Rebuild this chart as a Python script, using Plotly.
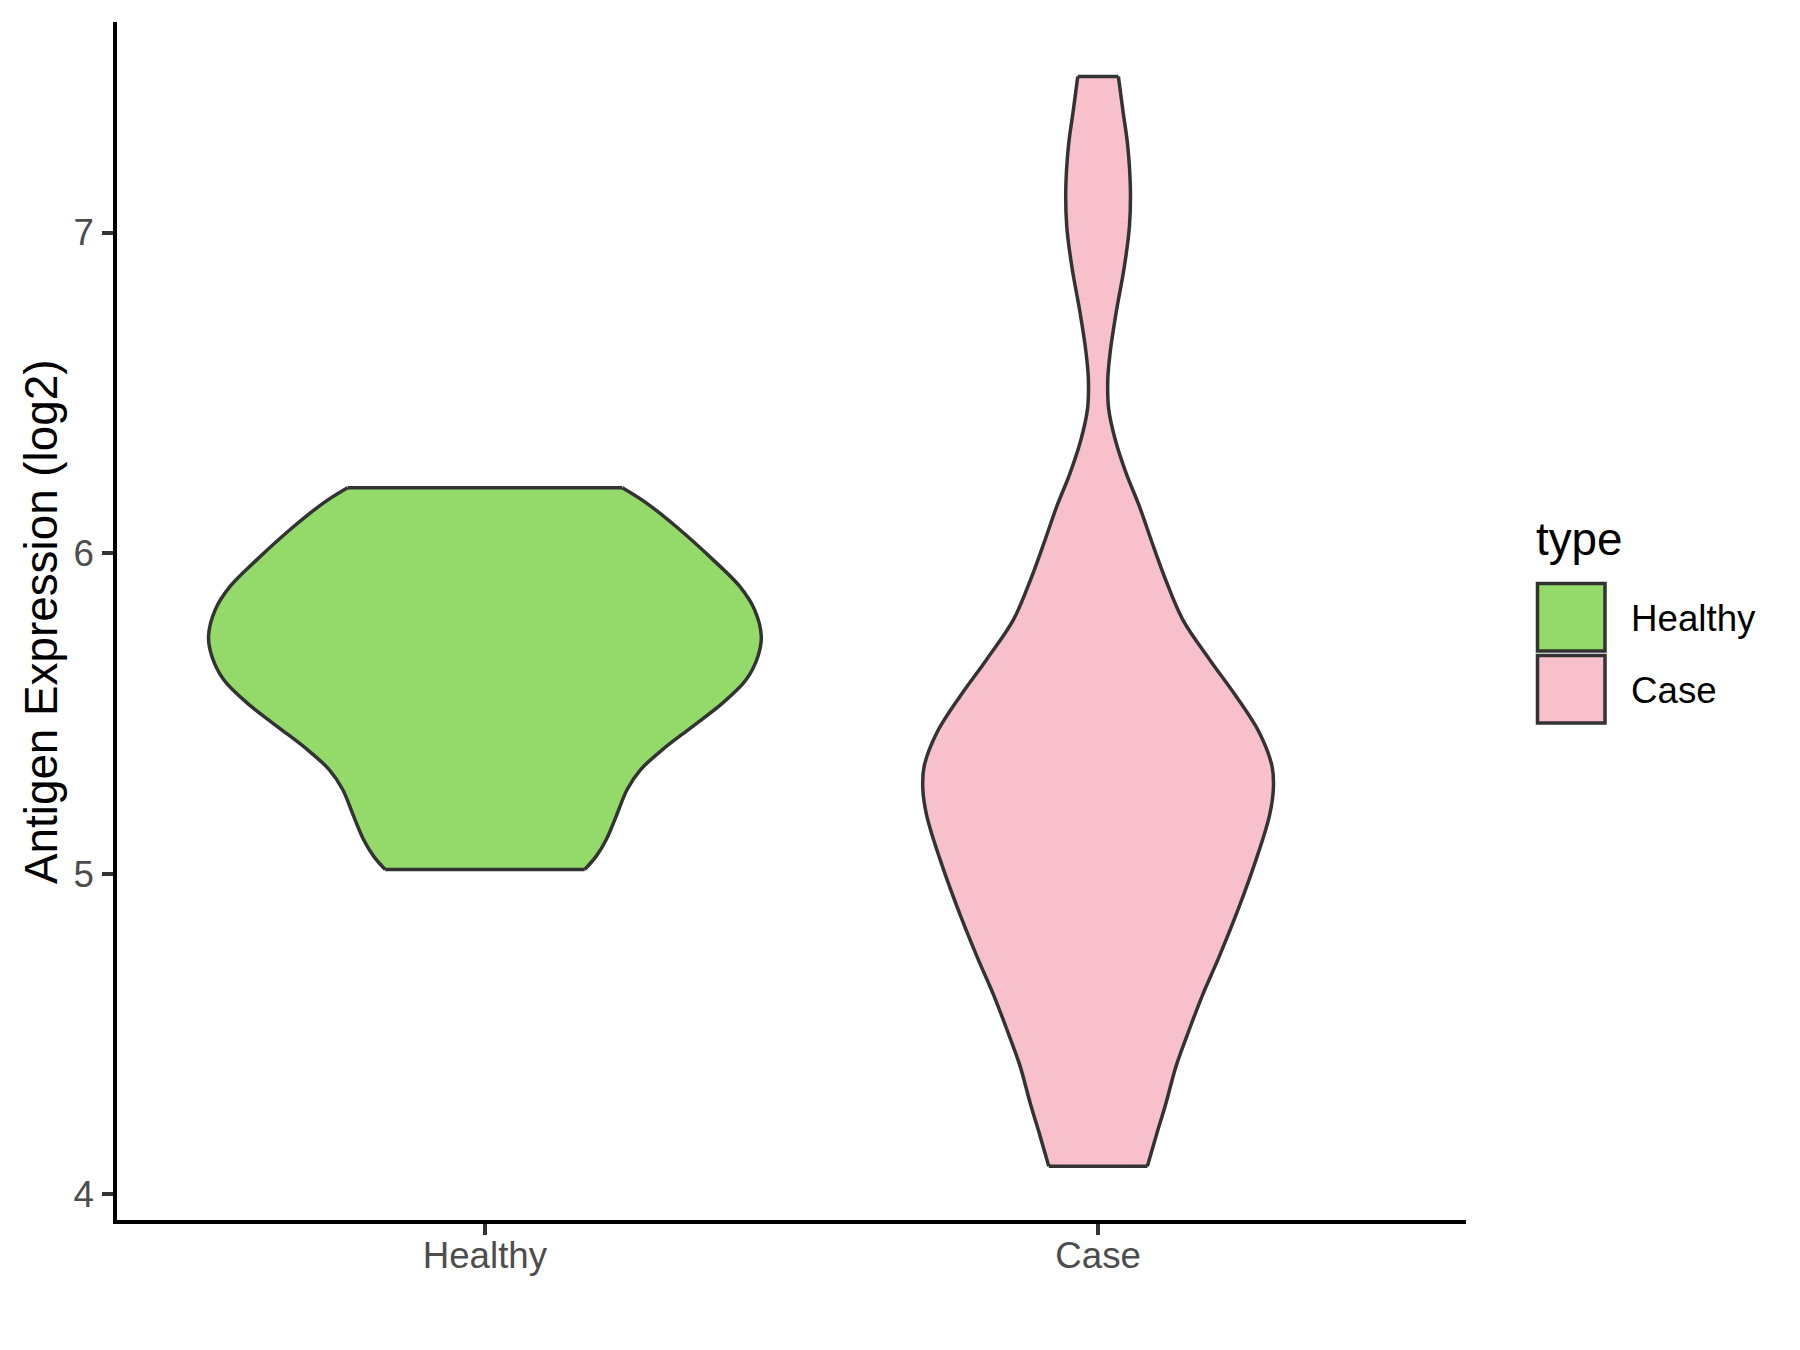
import plotly.graph_objects as go

# ---- data ----
categories = ["Healthy", "Case"]
positions = [1, 2]
fill_colors = ["#93DA6A", "#F8C0CB"]

# density profile: expression level (log2) and violin half-width (x-axis units)
healthy_level = [5.013, 5.055, 5.107, 5.180, 5.263, 5.325, 5.388, 5.460, 5.533,
                 5.606, 5.678, 5.741, 5.824, 5.897, 5.980, 6.074, 6.157, 6.204]
healthy_halfwidth = [0.1626, 0.1816, 0.1980, 0.2142, 0.2320, 0.2540, 0.2900, 0.3390, 0.3880,
                     0.4262, 0.4452, 0.4507, 0.4397, 0.4153, 0.3718, 0.3175, 0.2630, 0.2240]

case_level = [4.088, 4.182, 4.286, 4.400, 4.515, 4.620, 4.743, 4.899, 5.044, 5.180,
              5.263, 5.335, 5.440, 5.554, 5.668, 5.793, 5.918, 6.042, 6.146, 6.250,
              6.354, 6.448, 6.541, 6.625, 6.749, 6.895, 7.019, 7.134, 7.269, 7.383, 7.487]
case_halfwidth = [0.0804, 0.0946, 0.1109, 0.1272, 0.1489, 0.1700, 0.1978, 0.2304, 0.2576, 0.2793,
                  0.2858, 0.2837, 0.2630, 0.2250, 0.1820, 0.1380, 0.1100, 0.0864, 0.0674, 0.0457,
                  0.0280, 0.0174, 0.0158, 0.0196, 0.0293, 0.0429, 0.0511, 0.0527, 0.0484, 0.0403, 0.0331]

y_ticks = [4, 5, 6, 7]
y_title = "Antigen Expression (log2)"
legend_title = "type"

profiles = [(healthy_level, healthy_halfwidth), (case_level, case_halfwidth)]

# ---- figure ----
W, H = 1800, 1350
OFF = 8  # page body margin offset
L, T = 117 - OFF, 22 - OFF
PW, PH = 1349, 1198
R, B = W - L - PW, H - T - PH
FONT = "Liberation Sans, Arial, sans-serif"
OUTLINE = "#333333"
LW = 3.5

fig = go.Figure()
for name, pos, col, (lev, hw) in zip(categories, positions, fill_colors, profiles):
    left_x = [pos - w for w in hw]
    right_x = [pos + w for w in hw]
    lev = list(lev)
    # filled body (no outline)
    fx = left_x + right_x[::-1] + [left_x[0]]
    fy = lev + lev[::-1] + [lev[0]]
    fig.add_trace(go.Scatter(
        x=fx, y=fy, mode="lines", fill="toself", fillcolor=col,
        line=dict(width=0),
        name=name, showlegend=False, hoverinfo="skip"))
    # outline: smooth sides, straight top and bottom
    ox = left_x + [None] + [left_x[-1], right_x[-1]] + [None] + right_x + [None] + [left_x[0], right_x[0]]
    oy = lev + [None] + [lev[-1], lev[-1]] + [None] + lev + [None] + [lev[0], lev[0]]
    fig.add_trace(go.Scatter(
        x=ox, y=oy, mode="lines", connectgaps=False,
        line=dict(color=OUTLINE, width=LW, shape="spline", smoothing=1.0),
        showlegend=False, hoverinfo="skip"))

fig.update_layout(
    width=W, height=H, margin=dict(l=L, r=R, t=T, b=B, pad=0),
    paper_bgcolor="white", plot_bgcolor="white",
    font=dict(family=FONT, size=37, color="#4D4D4D"),
    showlegend=False,
)
fig.update_xaxes(
    range=[0.4, 2.6], tickvals=positions, ticktext=categories,
    showgrid=False, zeroline=False, showline=True, linecolor="black", linewidth=3.6,
    ticks="outside", ticklen=11, tickwidth=3.5, tickcolor=OUTLINE,
    tickfont=dict(family=FONT, size=36.7, color="#4D4D4D"), ticklabelstandoff=-11,
)
fig.update_yaxes(
    range=[3.920, 7.657], tickvals=y_ticks, ticktext=[str(v) for v in y_ticks],
    showgrid=False, zeroline=False, showline=True, linecolor="black", linewidth=3.6,
    ticks="outside", ticklen=11, tickwidth=3.5, tickcolor=OUTLINE,
    tickfont=dict(family=FONT, size=36.7, color="#4D4D4D"), ticklabelstandoff=1,
)

# page pixel -> paper coordinates
def px(xp):
    return (xp - OFF - L) / PW
def py(yp):
    return (T + PH - (yp - OFF)) / PH

# y-axis title
fig.add_annotation(text=y_title, xref="paper", yref="paper", x=px(41), y=py(622),
                   showarrow=False, textangle=-90, xanchor="center", yanchor="middle",
                   font=dict(family=FONT, size=45.8, color="black"))

# legend (ggplot style)
fig.add_annotation(text=legend_title, xref="paper", yref="paper", x=px(1534), y=py(539),
                   showarrow=False, xanchor="left", yanchor="middle",
                   font=dict(family=FONT, size=45.8, color="black"))
key_tops = [583.5, 655.5]
for name, col, top in zip(categories, fill_colors, key_tops):
    fig.add_shape(type="rect", xref="paper", yref="paper",
                  x0=px(1537.5), x1=px(1605), y0=py(top), y1=py(top + 67.5),
                  fillcolor=col, line=dict(color=OUTLINE, width=3.5))
    fig.add_annotation(text=name, xref="paper", yref="paper", x=px(1629), y=py(top + 34.5),
                       showarrow=False, xanchor="left", yanchor="middle",
                       font=dict(family=FONT, size=36.7, color="black"))

fig.write_html("out.html")
